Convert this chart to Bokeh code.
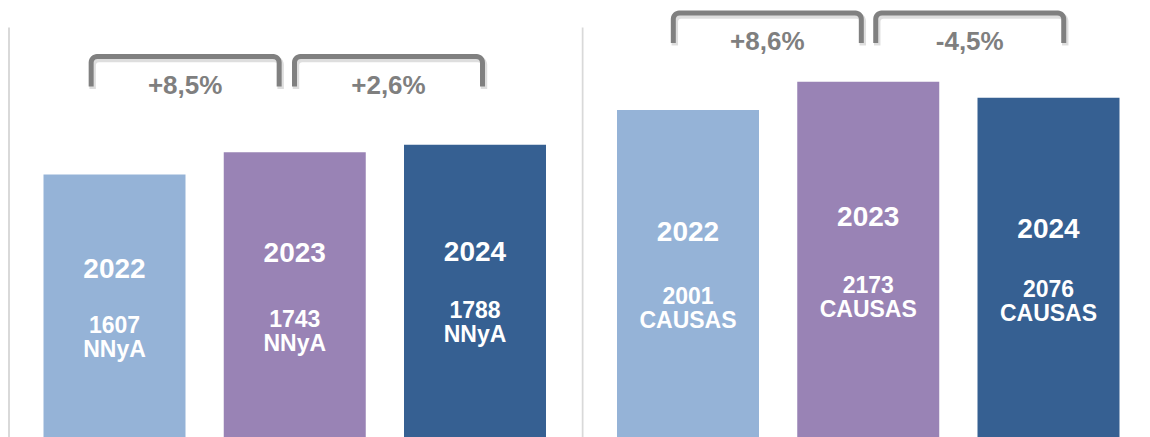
import math
from bokeh.plotting import figure
from bokeh.layouts import row
from bokeh.models import Range1d, ColumnDataSource
from bokeh.core.properties import value
from bokeh.embed import file_html
from bokeh.resources import INLINE

# ---------------- data ----------------
years = ["2022", "2023", "2024"]
nnya = [1607, 1743, 1788]
causas = [2001, 2173, 2076]
nnya_unit = "NNyA"
causas_unit = "CAUSAS"
nnya_change = ["+8,5%", "+2,6%"]
causas_change = ["+8,6%", "-4,5%"]
bar_colors = ["#95B3D7", "#9983B5", "#366092"]

# ---------------- layout / style ----------------
S = 0.1637          # pixels per value unit
STEP = 180.25       # pixels between neighbouring bars
H = 437
BASE_PAD = 0        # px between frame bottom and value 0
FONT = value("Liberation Sans")
GRAY = "#7F7F7F"


def px2val(py):
    """py: distance in px from the top of the frame -> value"""
    return (H + BASE_PAD - py) / S


def make_panel(vals, unit, changes, width, x_start, sep_px, year_off, count_off,
               bracket_top, bracket_shift):
    p = figure(width=width, height=H, output_backend="svg", toolbar_location=None,
               x_range=Range1d(x_start, x_start + width / STEP),
               y_range=Range1d(px2val(H), px2val(0)),
               x_axis_location=None, y_axis_location=None, min_border=0,
               outline_line_color=None, background_fill_color="white",
               border_fill_color="white")
    p.grid.grid_line_color = None

    idx = list(range(len(years)))
    # separator line
    sx = x_start + sep_px / STEP
    p.segment(x0=[sx], y0=[0], x1=[sx], y1=[px2val(27)], line_color="#D9D9D9",
              line_width=2)

    src = ColumnDataSource(dict(x=idx, top=vals, color=bar_colors, year=years,
                                count=[str(v) for v in vals],
                                unit=[unit] * len(vals),
                                yoff=year_off, coff=count_off,
                                uoff=[c + 24.5 for c in count_off]))
    p.vbar(x="x", top="top", bottom=0, width=142 / STEP, fill_color="color",
           line_color=None, source=src)
    common = dict(text_align="center", text_baseline="middle", text_font=FONT,
                  text_font_style="bold", text_color="white", source=src)
    p.text(x="x", y="top", text="year", y_offset="yoff", text_font_size="28px", **common)
    p.text(x="x", y="top", text="count", y_offset="coff", text_font_size="23px", **common)
    p.text(x="x", y="top", text="unit", y_offset="uoff", text_font_size="23px", **common)

    # brackets with percentage change
    r = 6.0
    hw = 94.0
    depth = 30.0
    for i, (lab, sh) in enumerate(zip(changes, bracket_shift)):
        xc = i + 0.5 + sh
        pts = [(-hw, depth), (-hw, r)]
        for k in range(1, 6):
            a = math.pi - k * (math.pi / 2) / 6
            pts.append((-hw + r + r * math.cos(a), r - r * math.sin(a)))
        pts += [(-hw + r, 0), (hw - r, 0)]
        for k in range(1, 6):
            a = math.pi / 2 - k * (math.pi / 2) / 6
            pts.append((hw - r + r * math.cos(a), r - r * math.sin(a)))
        pts += [(hw, r), (hw, depth)]
        for (dx, dy, col, alpha, lw) in [(1.5, 2.5, "#000000", 0.13, 6.5),
                                         (0, 0, "#808080", 1.0, 5)]:
            xs = [xc + (px + dx) / STEP for px, _ in pts]
            ys = [px2val(bracket_top + py + dy) for _, py in pts]
            p.line(xs, ys, line_color=col, line_alpha=alpha, line_width=lw,
                   line_join="round")
        p.text(x=[xc], y=[px2val(bracket_top + 28)], text=[lab], text_align="center",
               text_baseline="middle", text_font=FONT, text_font_style="bold",
               text_font_size="26px", text_color=GRAY)
    return p


left = make_panel(nnya, nnya_unit, nnya_change, 581, -114 / STEP, 8.5,
                  year_off=[94, 100, 107], count_off=[150.5, 166, 165],
                  bracket_top=56, bracket_shift=[-0.108, 0.02])
right = make_panel(causas, causas_unit, causas_change, 569, (581 - 687.5) / STEP, 1.0,
                   year_off=[122, 135, 131], count_off=[186, 202.5, 191],
                   bracket_top=12.5, bracket_shift=[-0.06, 0.063])

layout = row(left, right)
open("out.html", "w").write(file_html(layout, INLINE))
